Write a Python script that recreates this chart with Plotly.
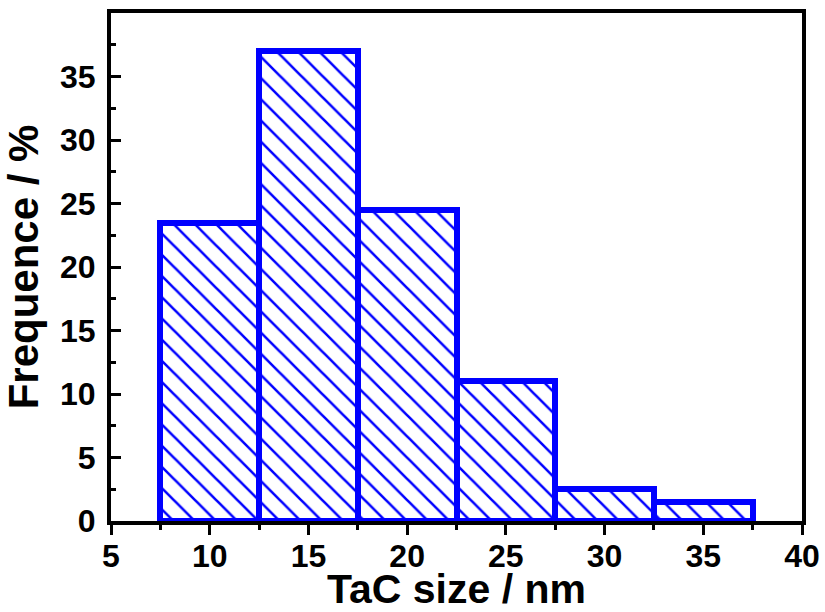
import plotly.graph_objects as go

# Data
bin_centers = [10, 15, 20, 25, 30, 35]
frequency = [23.5, 37.0, 24.5, 11.0, 2.5, 1.5]
bin_width = 5

x_ticks = [5, 10, 15, 20, 25, 30, 35, 40]
x_minor = [7.5, 12.5, 17.5, 22.5, 27.5, 32.5, 37.5]
y_ticks = [0, 5, 10, 15, 20, 25, 30, 35]
y_minor = [2.5, 7.5, 12.5, 17.5, 22.5, 27.5, 32.5, 37.5]

BLUE = "#0000FF"
FONT = "Liberation Sans, Arial, sans-serif"

fig = go.Figure()
fig.add_trace(go.Bar(
    x=bin_centers,
    y=frequency,
    width=[bin_width] * len(bin_centers),
    marker=dict(
        color="white",
        line=dict(color=BLUE, width=6),
        pattern=dict(shape="\\", fgcolor=BLUE, bgcolor="white", fgopacity=1,
                     size=15, solidity=0.17, fillmode="overlay"),
    ),
    showlegend=False,
))

axis_common = dict(
    showline=True, linecolor="black", linewidth=4, mirror=True,
    showgrid=False, zeroline=False, automargin=False,
    tickcolor="black", tickwidth=3,
    tickfont=dict(family=FONT, size=32, color="black", weight="bold"),
)

fig.update_xaxes(
    range=[5, 40], tickmode="array", tickvals=x_ticks, ticks="outside", ticklen=10,
    minor=dict(tickmode="array", tickvals=x_minor, ticks="outside", ticklen=5, tickwidth=3, tickcolor="black"),
    ticklabelstandoff=-6,
    title=dict(text="TaC size / nm", font=dict(family=FONT, size=41, color="black", weight="bold"), standoff=0),
    **axis_common,
)
fig.update_yaxes(
    range=[0, 40], tickmode="array", tickvals=y_ticks, ticks="inside", ticklen=10,
    minor=dict(tickmode="array", tickvals=y_minor, ticks="inside", ticklen=5, tickwidth=3, tickcolor="black"),
    ticklabelstandoff=5,
    title=dict(text="Frequence / %", font=dict(family=FONT, size=42, color="black", weight="bold"), standoff=9),
    **axis_common,
)

fig.update_layout(
    width=825, height=612,
    margin=dict(l=111, r=23, t=13, b=91),
    plot_bgcolor="white", paper_bgcolor="white",
    bargap=0,
)

fig.write_html("out.html")
